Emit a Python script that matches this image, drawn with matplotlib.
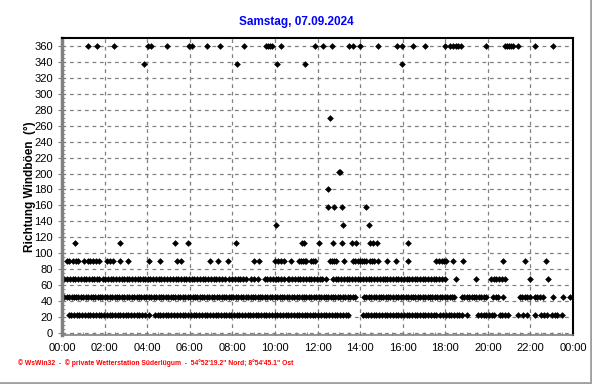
import numpy as np
import matplotlib
matplotlib.use('Agg')
import matplotlib.pyplot as plt
from matplotlib.lines import Line2D

plt.rcParams['font.family'] = ['Liberation Sans', 'DejaVu Sans']

# Zeitpunkte (Minuten seit 00:00) je Windrichtung der Böen
dir_values = [360, 337.5, 270, 202.5, 180, 157.5, 135, 112.5, 90, 67.5, 45, 22.5]

t_360 = [72, 100, 146, 242, 251, 296, 359, 366, 408, 444, 512, 574, 580, 586, 592,
         618, 712, 735, 761, 808, 820, 841, 890, 944, 959, 988, 1022, 1078, 1092,
         1101, 1110, 1116, 1125, 1194, 1248, 1254, 1260, 1266, 1272, 1284, 1332, 1384]
t_337 = [230, 493, 605, 686, 959]
t_270 = [754]
t_202 = [780, 784]
t_180 = [749]
t_157 = [749, 766, 789, 856]
t_135 = [602, 793, 865]
t_112 = [37, 163, 319, 356, 491, 675, 681, 724, 763, 789, 817, 828, 867, 876, 888, 975]
t_090 = [14, 21, 30, 39, 46, 63, 72, 80, 87, 96, 105, 127, 136, 143, 164, 185, 244,
         277, 324, 336, 418, 439, 467, 540, 554, 599, 608, 618, 627, 646, 667, 673,
         679, 685, 688, 702, 707, 712, 754, 760, 766, 773, 796, 820, 827, 834, 839,
         846, 852, 858, 867, 873, 880, 890, 916, 942, 975, 1055, 1062, 1070, 1076,
         1083, 1102, 1130, 1243, 1304, 1365]
t_067 = [0, 7, 15, 22, 30, 38, 45, 53, 61, 68, 76, 84, 91, 98, 105, 115, 122, 130,
         138, 145, 153, 161, 168, 176, 183, 190, 198, 206, 213, 220, 227, 234, 241,
         249, 256, 264, 272, 279, 287, 295, 303, 312, 320, 327, 335, 343, 350, 358,
         366, 373, 381, 389, 396, 404, 412, 419, 427, 435, 442, 450, 458, 472, 480,
         487, 495, 503, 511, 519, 533, 541, 552, 571, 579, 587, 594, 602, 610, 618,
         627, 636, 641, 649, 657, 664, 672, 680, 688, 695, 703, 711, 719, 726, 734,
         745, 763, 771, 779, 786, 794, 802, 810, 817, 825, 833, 841, 848, 856, 864,
         872, 879, 887, 895, 904, 909, 917, 925, 932, 940, 948, 956, 963, 971, 979,
         987, 994, 1001, 1008, 1016, 1024, 1032, 1040, 1047, 1055, 1063, 1071, 1078,
         1111, 1168, 1210, 1216, 1224, 1232, 1240, 1248, 1318, 1370]
t_045 = [0, 6, 13, 19, 27, 33, 40, 46, 54, 60, 67, 73, 81, 88, 94, 101, 108, 114,
         122, 128, 135, 142, 149, 155, 162, 170, 176, 183, 190, 196, 204, 210, 217,
         224, 231, 237, 245, 251, 258, 265, 272, 278, 286, 292, 299, 306, 313, 319,
         327, 333, 340, 347, 354, 360, 368, 374, 381, 388, 395, 401, 409, 415, 422,
         429, 436, 442, 450, 456, 463, 470, 477, 483, 491, 497, 504, 511, 518, 524,
         532, 538, 545, 552, 559, 565, 573, 579, 586, 593, 600, 606, 614, 620, 627,
         634, 641, 647, 655, 661, 668, 675, 682, 688, 696, 702, 709, 716, 723, 729,
         737, 743, 750, 757, 764, 770, 778, 784, 791, 798, 805, 811, 819, 825, 850,
         857, 864, 871, 878, 884, 892, 898, 905, 912, 919, 925, 932, 942, 948, 955,
         962, 969, 975, 983, 989, 996, 1003, 1010, 1016, 1024, 1030, 1037, 1044,
         1051, 1057, 1065, 1071, 1078, 1085, 1092, 1098, 1105, 1126, 1133, 1140,
         1147, 1154, 1160, 1168, 1175, 1182, 1189, 1196, 1215, 1222, 1230, 1243,
         1290, 1297, 1304, 1311, 1318, 1332, 1339, 1346, 1356, 1384, 1412, 1431]
t_022 = [19, 26, 34, 42, 49, 57, 65, 72, 80, 88, 95, 103, 111, 118, 126, 134, 141,
         149, 157, 164, 172, 180, 187, 195, 203, 210, 218, 226, 233, 244, 262, 270,
         277, 285, 293, 300, 308, 316, 325, 333, 341, 348, 356, 364, 371, 379, 387,
         394, 402, 410, 417, 425, 433, 440, 448, 456, 463, 471, 477, 484, 492, 500,
         507, 515, 523, 530, 538, 546, 553, 561, 569, 576, 584, 592, 599, 607, 615,
         622, 630, 638, 645, 653, 661, 668, 676, 684, 691, 699, 707, 714, 722, 730,
         737, 745, 753, 760, 768, 776, 783, 791, 799, 806, 848, 856, 863, 871, 879,
         886, 894, 902, 909, 917, 925, 932, 940, 948, 955, 963, 971, 978, 986, 994,
         999, 1008, 1016, 1024, 1031, 1039, 1047, 1054, 1065, 1074, 1082, 1090, 1097,
         1105, 1113, 1120, 1128, 1140, 1172, 1180, 1188, 1195, 1203, 1211, 1218,
         1234, 1241, 1249, 1256, 1285, 1299, 1309, 1332, 1351, 1358, 1366, 1380,
         1388, 1396, 1408]

dir_times = [t_360, t_337, t_270, t_202, t_180, t_157, t_135, t_112,
             t_090, t_067, t_045, t_022]

x_labels = ['00:00', '02:00', '04:00', '06:00', '08:00', '10:00', '12:00',
            '14:00', '16:00', '18:00', '20:00', '22:00', '00:00']

fig = plt.figure(figsize=(5.92, 3.84), dpi=100)
ax = fig.add_axes([62 / 592, 1 - 335 / 384, 511 / 592, 297 / 384])

for d, tl in zip(dir_values, dir_times):
    h = np.array(tl) / 60.0
    ax.plot(h, np.full(len(h), d), linestyle='none', marker='D',
            markersize=3.4, color='black', markeredgewidth=0)

ax.set_xlim(0, 24)
ax.set_ylim(-2.5, 370)
ax.set_xticks(np.arange(0, 25, 2))
ax.set_xticklabels(x_labels)
ax.set_xticks(np.arange(0, 24.01, 0.5), minor=True)
ax.set_yticks(np.arange(0, 361, 20))
ax.set_yticks(np.arange(0, 361, 5), minor=True)
ax.tick_params(axis='both', which='major', labelsize=8, length=3, color='#808080')
ax.tick_params(axis='x', which='both', direction='in')
ax.tick_params(axis='y', which='major', direction='out')
ax.tick_params(axis='y', which='minor', direction='in', length=2, color='#808080')
ax.tick_params(axis='x', which='minor', length=2, color='#808080')
ax.tick_params(axis='x', which='major', pad=6)

ax.grid(True, which='major', color='#808080', linestyle=(0, (3, 3)), linewidth=0.9)
ax.set_axisbelow(True)

ax.spines['left'].set_color('#808080')
ax.spines['left'].set_linewidth(2.5)
ax.spines['bottom'].set_color('#808080')
ax.spines['bottom'].set_linewidth(1.2)
ax.spines['top'].set_color('black')
ax.spines['top'].set_linewidth(1.5)
ax.spines['right'].set_color('black')
ax.spines['right'].set_linewidth(1.5)

ax.set_ylabel('Richtung Windböen  (°)', fontsize=8.5, fontweight='bold', labelpad=-1)

fig.text(0.5, 1 - 22 / 384, 'Samstag, 07.09.2024', ha='center', va='center',
         color='#0000ff', fontsize=8.5, fontweight='bold')

fig.text(18 / 592, 1 - 363 / 384,
         '© WsWin32  -  © private Wetterstation Süderlügum  -  54°52\'19.2" Nord; 8°54\'45.1" Ost',
         ha='left', va='center', color='#ff0000', fontsize=4.9, fontweight='bold')

# grauer Rahmen unten/rechts
fig.add_artist(Line2D([0, 1], [1.5 / 384, 1.5 / 384], color='#a0a0a0', linewidth=2,
                      transform=fig.transFigure))
fig.add_artist(Line2D([1 - 1.5 / 592, 1 - 1.5 / 592], [0, 1], color='#a0a0a0',
                      linewidth=2, transform=fig.transFigure))

fig.savefig('out.png', dpi=100)
